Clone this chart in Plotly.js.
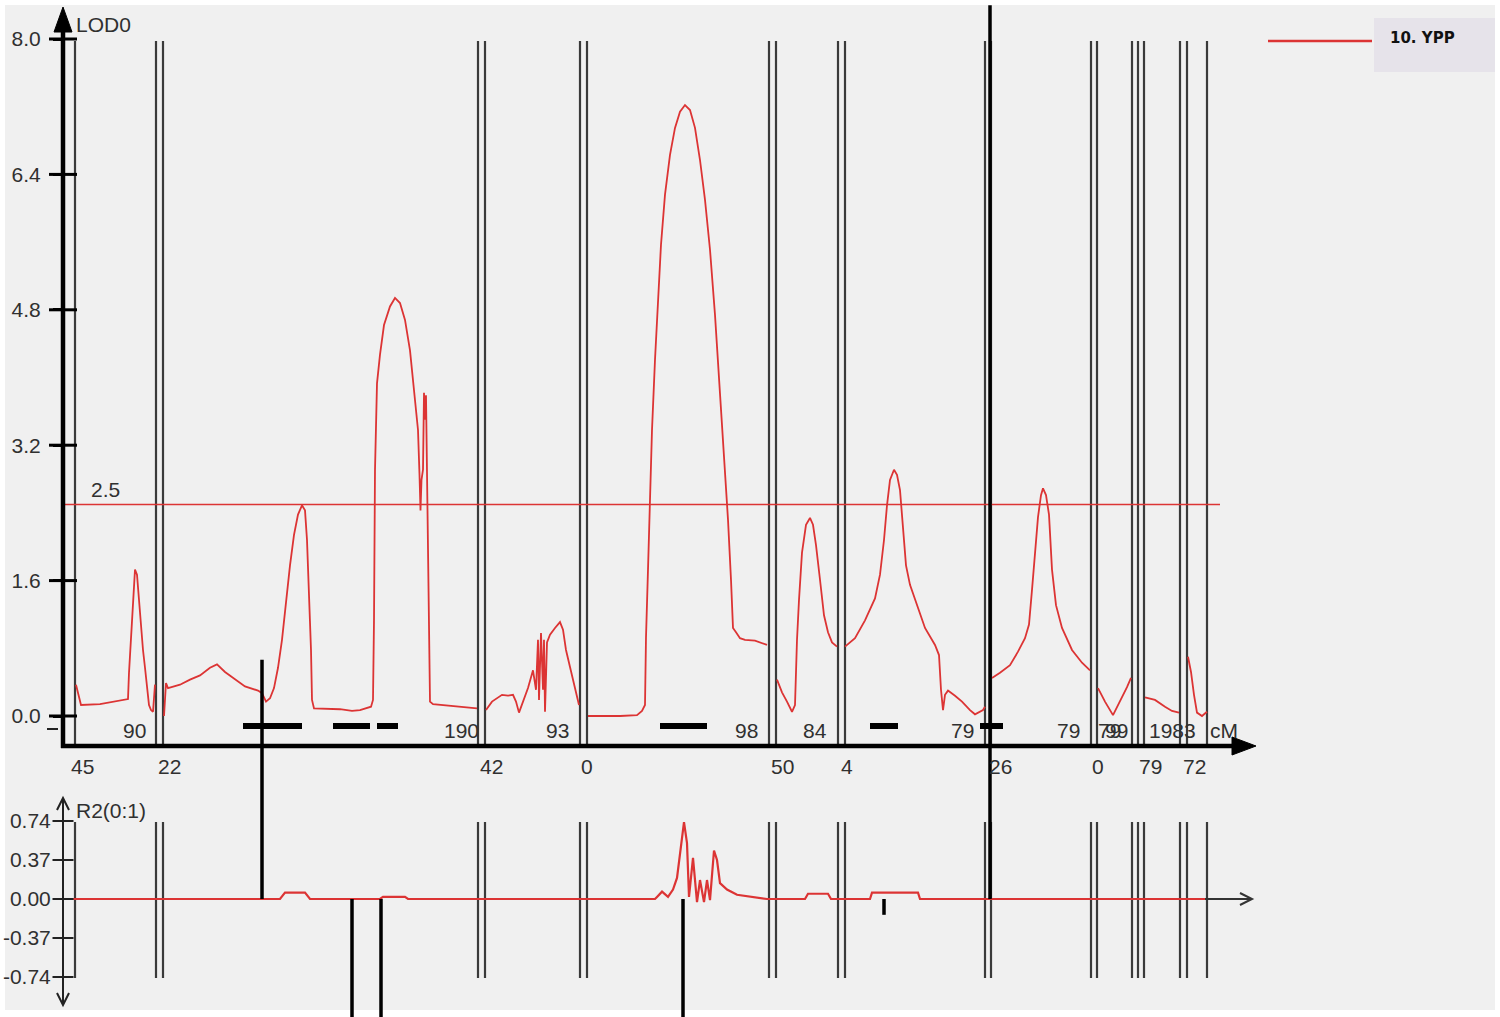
<!DOCTYPE html>
<html>
<head>
<meta charset="utf-8">
<script src="https://cdn.plot.ly/plotly-3.0.1.min.js"></script>
<style>
  html, body { margin: 0; padding: 0; background: #fff; }
  #chart { width: 1500px; height: 1017px; }
</style>
</head>
<body>
<div id="chart"></div>
<script>
// LOD profile of trait 10 (YPP), one run per linkage group, split by null
const lodPos = [
  76, 79, 81, 100, 115, 128, 129, 131, 132, 134, 135, 137, 139, 141, 143, 145, 147, 149, 151, 153, 155, null,
  164, 166, 168, 180, 190, 200, 210, 217, 225, 235, 245, 258, 262, 266, 270, 274, 278, 282, 286, 290, 294, 298,
  302, 305, 307, 309, 311, 312, 314, 340, 352, 360, 371, 373, 374, 375, 377, 380, 384, 390, 395, 400, 405, 410,
  414, 418, 419.5, 420.5, 421.5, 423, 424, 425, 426, 427, 428, 429, 430, 433, 450, 465, 477, null,
  486, 492, 502, 508, 513, 516, 519, 523, 528, 533, 536, 538, 539, 541, 543, 544, 545, 547, 550, 555, 560, 563,
  566, 570, 574, 579, null,
  588, 600, 620, 637, 642, 645, 646, 648, 650, 652, 655, 658, 661, 665, 670, 675, 680, 685, 690, 695, 700, 705,
  710, 715, 720, 724, 728, 731, 733, 736, 740, 745, 755, 767, null,
  777, 782, 787, 792, 795, 797, 799, 802, 806, 810, 813, 816, 820, 824, 828, 832, 837, null,
  845, 855, 865, 875, 880, 884, 887, 890, 894, 897, 900, 903, 906, 910, 916, 925, 935, 939, 941, 943, 945, 948,
  955, 962, 970, 975, 983, 985, null,
  992, 1000, 1010, 1018, 1025, 1029, 1032, 1035, 1038, 1041, 1043, 1046, 1049, 1052, 1056, 1062, 1072, 1082, 1090, null,
  1098, 1105, 1113, 1120, 1127, 1131, null,
  1145, 1155, 1165, 1172, 1179, null,
  1188, 1191, 1194, 1197, 1202, 1207
];
const lodVal = [
  0.37, 0.22, 0.13, 0.14, 0.17, 0.20, 0.51, 0.90, 1.17, 1.61, 1.73, 1.67, 1.37, 1.05, 0.78, 0.57, 0.31, 0.13, 0.07, 0.05, 0.37, null,
  0.00, 0.39, 0.33, 0.37, 0.43, 0.48, 0.57, 0.61, 0.52, 0.43, 0.35, 0.30, 0.27, 0.17, 0.21, 0.33, 0.57, 0.90, 1.37, 1.78, 2.14, 2.38,
  2.49, 2.43, 2.08, 1.49, 0.78, 0.19, 0.09, 0.08, 0.06, 0.07, 0.11, 0.19, 1.13, 2.91, 3.93, 4.27, 4.62, 4.84, 4.94, 4.88, 4.68, 4.32,
  3.85, 3.38, 2.85, 2.43, 2.79, 2.91, 3.82, 3.50, 3.79, 2.85, 2.55, 1.13, 0.17, 0.14, 0.12, 0.11, 0.09, null,
  0.07, 0.17, 0.25, 0.24, 0.25, 0.17, 0.04, 0.17, 0.33, 0.54, 0.31, 0.90, 0.19, 0.98, 0.31, 0.90, 0.05, 0.87, 0.96, 1.04, 1.11, 1.02,
  0.78, 0.58, 0.37, 0.13, null,
  0.00, 0.00, 0.00, 0.01, 0.06, 0.13, 0.93, 1.73, 2.55, 3.38, 4.21, 4.97, 5.57, 6.16, 6.63, 6.95, 7.14, 7.22, 7.16, 6.95, 6.57, 6.10,
  5.51, 4.74, 3.85, 3.03, 2.32, 1.61, 1.04, 0.99, 0.92, 0.90, 0.89, 0.84, null,
  0.43, 0.28, 0.17, 0.05, 0.13, 0.90, 1.37, 1.93, 2.26, 2.34, 2.26, 2.02, 1.61, 1.19, 0.99, 0.87, 0.82, null,
  0.82, 0.92, 1.13, 1.39, 1.67, 2.08, 2.49, 2.79, 2.91, 2.85, 2.67, 2.20, 1.78, 1.55, 1.34, 1.04, 0.84, 0.72, 0.31, 0.07, 0.25, 0.30,
  0.24, 0.17, 0.07, 0.02, 0.07, 0.11, null,
  0.45, 0.51, 0.60, 0.76, 0.92, 1.08, 1.49, 1.93, 2.35, 2.61, 2.69, 2.61, 2.38, 1.73, 1.31, 1.04, 0.78, 0.63, 0.54, null,
  0.33, 0.17, 0.01, 0.17, 0.34, 0.45, null,
  0.22, 0.19, 0.11, 0.06, 0.04, null,
  0.70, 0.52, 0.25, 0.04, 0.00, 0.05
];
const threshold = 2.5;

// R2 profile (lower panel)
const r2Pos = [63, 280, 285, 305, 310, 380, 383, 405, 408, 655, 657, 662, 668, 673, 677, 682, 684, 687, 689, 693,
  697, 700, 704, 707, 710, 714, 717, 720, 727, 737, 767, 805, 808, 828, 831, 870, 872, 918, 920, 1210];
const r2Val = [0, 0, 0.06, 0.06, 0, 0, 0.02, 0.02, 0, 0, 0.02, 0.07, 0.02, 0.09, 0.20, 0.56, 0.73, 0.53, 0.02, 0.39,
  -0.03, 0.18, -0.03, 0.18, -0.01, 0.46, 0.37, 0.15, 0.09, 0.04, 0, 0, 0.05, 0.05, 0, 0, 0.06, 0.06, 0, 0];

// effect bars drawn from the R2 baseline
const effPos = [262, 352, 381, 683, 884, 990];
const effVal = [2.27, -1.2, -1.2, -1.2, -0.15, 8.48];

// QTL support intervals
const ciStart = [243, 333, 377, 660, 870, 980];
const ciEnd = [302, 370, 398, 707, 898, 1003];

// linkage group borders (markers)
const markerPos = [75, 156, 163, 478, 485, 580, 587, 769, 776, 838, 845, 985, 991, 1091, 1097, 1132, 1138, 1144, 1180, 1187, 1207];

// lengths printed at group ends / starts (the source prints some of them on top of each other)
const endLabels = ["90", "190", "93", "98", "84", "79", "79", "79", "99", "1983", "cM"];
const endLabelPos = [134, 461, 557, 746, 815, 962, 1068, 1109, 1116, 1172, 1224];
const startLabels = ["45", "22", "42", "0", "50", "4", "26", "0", "79", "72"];
const startLabelPos = [82, 169, 491, 587, 782, 847, 1000, 1098, 1150, 1194];

const lodTicks = [0, 1.6, 3.2, 4.8, 6.4, 8.0];
const r2Ticks = [-0.74, -0.37, 0, 0.37, 0.74];

// pixel rows -> axis units (plot spans the whole page)
const H = 1017, W = 1500;
const L = (py) => (716 - py) / 84.625;
const R = (py) => (899 - py) / 105.4;
const P = (py) => 1 - py / H;

const RED = "#dc3434";
const INK = "#303030";
const FONT = "Liberation Sans, Arial, sans-serif";

let stems = (xs, y0, y1) => {
  let x = [], y = [];
  xs.forEach((v, i) => {
    x.push(v, v, null);
    y.push(Array.isArray(y0) ? y0[i] : y0, Array.isArray(y1) ? y1[i] : y1, null);
  });
  return { x, y };
};

let mTop = stems(markerPos, L(41), L(747));
let mBot = stems(markerPos, R(822), R(978));
let eff = stems(effPos, 0, effVal);
let ciX = [], ciY = [];
ciStart.forEach((s, i) => { ciX.push(s, ciEnd[i], null); ciY.push(L(726), L(726), null); });

let traces = [
  { x: mTop.x, y: mTop.y, mode: "lines", line: { color: "#3a3a3a", width: 2.2 }, yaxis: "y" },
  { x: mBot.x, y: mBot.y, mode: "lines", line: { color: "#3a3a3a", width: 2.2 }, yaxis: "y2" },
  { x: [63, 1220], y: [threshold, threshold], mode: "lines", line: { color: RED, width: 1.6 }, yaxis: "y" },
  { x: lodPos, y: lodVal, mode: "lines", line: { color: RED, width: 1.8 }, connectgaps: false, yaxis: "y" },
  { x: r2Pos, y: r2Val, mode: "lines", line: { color: RED, width: 2.2 }, yaxis: "y2" },
  { x: ciX, y: ciY, mode: "lines", line: { color: "#000", width: 6 }, yaxis: "y" },
  { x: eff.x, y: eff.y, mode: "lines", line: { color: "#000", width: 3.5 }, yaxis: "y2" },
  { x: lodTicks.map(() => 63), y: lodTicks, mode: "markers", yaxis: "y",
    marker: { symbol: "line-ew", size: 20, line: { color: "#000", width: 3 } } },
  { x: r2Ticks.map(() => 63), y: r2Ticks, mode: "markers", yaxis: "y2",
    marker: { symbol: "line-ew", size: 15, line: { color: "#222", width: 2 } } }
];

let shapes = [
  { type: "rect", xref: "x", yref: "paper", x0: 5, x1: 1495, y0: P(1010), y1: P(5), fillcolor: "#f0f0f0", line: { width: 0 }, layer: "below" },
  // LOD axis with arrow
  { type: "line", xref: "x", yref: "y", x0: 63, x1: 63, y0: L(748), y1: L(24), line: { color: "#000", width: 4.5 } },
  { type: "path", xref: "x", yref: "y", path: `M 54 ${L(32)} L 63 ${L(7)} L 72 ${L(32)} Z`, fillcolor: "#000", line: { color: "#000", width: 1 } },
  { type: "line", xref: "x", yref: "y", x0: 47, x1: 58, y0: L(729), y1: L(729), line: { color: "#222", width: 2 } },
  // map axis with arrow
  { type: "line", xref: "x", yref: "y", x0: 61, x1: 1236, y0: L(746), y1: L(746), line: { color: "#000", width: 4.5 } },
  { type: "path", xref: "x", yref: "y", path: `M 1232 ${L(737)} L 1256 ${L(746)} L 1232 ${L(755)} Z`, fillcolor: "#000", line: { color: "#000", width: 1 } },
  // R2 axis
  { type: "line", xref: "x", yref: "y2", x0: 63, x1: 63, y0: R(1005), y1: R(798), line: { color: "#222", width: 2 } },
  { type: "path", xref: "x", yref: "y2", path: `M 57 ${R(810)} L 63 ${R(798)} L 69 ${R(810)}`, line: { color: "#222", width: 2 } },
  { type: "path", xref: "x", yref: "y2", path: `M 57 ${R(993)} L 63 ${R(1005)} L 69 ${R(993)}`, line: { color: "#222", width: 2 } },
  { type: "line", xref: "x", yref: "y2", x0: 1205, x1: 1252, y0: 0, y1: 0, line: { color: "#333", width: 1.8 } },
  { type: "path", xref: "x", yref: "y2", path: `M 1240 ${R(893)} L 1252 ${R(899)} L 1240 ${R(905)}`, line: { color: "#333", width: 2 } },
  // legend
  { type: "rect", xref: "x", yref: "paper", x0: 1374, x1: 1495, y0: P(72), y1: P(18), fillcolor: "#e6e3ea", line: { width: 0 } },
  { type: "line", xref: "x", yref: "paper", x0: 1268, x1: 1372, y0: P(41), y1: P(41), line: { color: RED, width: 2.5 } }
];

let txt = (text, x, y, yref, anchor, extra) => Object.assign({
  text, x, y, xref: "x", yref, xanchor: anchor || "center", yanchor: "middle", showarrow: false,
  font: { family: FONT, size: 21, color: INK }
}, extra || {});

let annotations = [
  txt("LOD0", 74, L(24), "y", "left"),
  txt("R2(0:1)", 74, R(810), "y2", "left"),
  txt("2.5", 89, L(489), "y", "left"),
  txt("<b>10. YPP</b>", 1388, P(38), "paper", "left", { font: { family: "DejaVu Sans, sans-serif", size: 15, color: "#111" } })
];
endLabels.forEach((t, i) => annotations.push(txt(t, endLabelPos[i], L(730), "y")));
startLabels.forEach((t, i) => annotations.push(txt(t, startLabelPos[i], L(766), "y")));

let layout = {
  width: W, height: H, autosize: false,
  margin: { l: 0, r: 0, t: 0, b: 0, pad: 0 },
  paper_bgcolor: "#ffffff",
  plot_bgcolor: "rgba(0,0,0,0)",
  showlegend: false,
  xaxis: { range: [0, W], domain: [0, 1], visible: false, fixedrange: true },
  yaxis: {
    domain: [0, 1], range: [L(H), L(0)], anchor: "free", position: 63 / W,
    tickvals: lodTicks, ticktext: lodTicks.map((v) => v.toFixed(1)),
    ticks: "outside", ticklen: 10, tickwidth: 3, tickcolor: "#000", ticklabelstandoff: 8,
    showgrid: false, zeroline: false, showline: false,
    tickfont: { family: FONT, size: 21, color: INK }
  },
  yaxis2: {
    overlaying: "y", range: [R(H), R(0)], anchor: "free", position: 63 / W,
    tickvals: r2Ticks, ticktext: r2Ticks.map((v) => v.toFixed(2)),
    ticks: "outside", ticklen: 8, tickwidth: 2, tickcolor: "#222", ticklabelstandoff: 0,
    showgrid: false, zeroline: false, showline: false,
    tickfont: { family: FONT, size: 21, color: INK }
  },
  shapes,
  annotations
};

Plotly.newPlot("chart", traces, layout, { staticPlot: true, displayModeBar: false });
</script>
</body>
</html>
